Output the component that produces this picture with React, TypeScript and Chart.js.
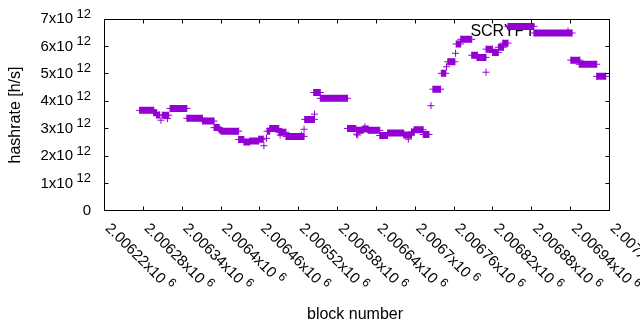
import React, { useEffect, useRef } from 'react';
import { Chart, registerables } from 'chart.js';

Chart.register(...registerables);

// Runs of equal hashrate: first block, last block, value (h/s)
const segStart = [
  2006275, 2006297, 2006301, 2006308, 2006310, 2006318, 2006322, 2006348, 2006372, 2006390,
  2006398, 2006401, 2006428, 2006436, 2006445, 2006459, 2006467, 2006471, 2006472, 2006476,
  2006490, 2006492, 2006501, 2006525, 2006529, 2006530, 2006545, 2006544, 2006554, 2006596,
  2006610, 2006612, 2006610, 2006623, 2006620, 2006628, 2006646, 2006658, 2006690, 2006683,
  2006695, 2006699, 2006713, 2006725, 2006728, 2006741, 2006749, 2006751, 2006763, 2006764,
  2006771, 2006788, 2006796, 2006810, 2006810, 2006820, 2006829, 2006836, 2006844, 2006884,
  2006941, 2006954, 2006981,
];
const segEnd = [
  2006297, 2006301, 2006306, 2006308, 2006320, 2006318, 2006348, 2006372, 2006390, 2006398,
  2006401, 2006428, 2006436, 2006445, 2006459, 2006466, 2006467, 2006471, 2006476, 2006490,
  2006501, 2006492, 2006529, 2006525, 2006529, 2006545, 2006545, 2006554, 2006596, 2006609,
  2006610, 2006612, 2006620, 2006623, 2006628, 2006646, 2006658, 2006683, 2006690, 2006695,
  2006699, 2006713, 2006722, 2006725, 2006740, 2006748, 2006749, 2006762, 2006763, 2006771,
  2006788, 2006797, 2006810, 2006810, 2006820, 2006829, 2006837, 2006844, 2006884, 2006943,
  2006955, 2006981, 2006995,
];
const segValue = [
  3.67e12, 3.58e12, 3.5e12, 3.31e12, 3.49e12, 3.37e12, 3.74e12, 3.38e12, 3.28e12, 3.04e12,
  2.95e12, 2.91e12, 2.61e12, 2.52e12, 2.55e12, 2.62e12, 2.38e12, 2.65e12, 2.91e12, 3.01e12,
  2.87e12, 2.77e12, 2.72e12, 2.77e12, 2.98e12, 3.34e12, 3.53e12, 4.32e12, 4.11e12, 3.01e12,
  2.8e12, 2.77e12, 2.94e12, 3.07e12, 2.99e12, 2.94e12, 2.75e12, 2.84e12, 2.62e12, 2.77e12,
  2.88e12, 2.96e12, 2.79e12, 3.84e12, 4.44e12, 5.02e12, 5.26e12, 5.44e12, 5.75e12, 6.09e12,
  6.26e12, 5.68e12, 5.6e12, 5.06e12, 5.9e12, 5.78e12, 5.97e12, 6.12e12, 6.73e12, 6.49e12,
  5.5e12, 5.35e12, 4.91e12,
];

const xMin = 2006220;
const xMax = 2007000;
const xTickValues = [
  2006220, 2006280, 2006340, 2006400, 2006460, 2006520, 2006580,
  2006640, 2006700, 2006760, 2006820, 2006880, 2006940, 2007000,
];
const xTickMain = [
  '2.00622x10', '2.00628x10', '2.00634x10', '2.0064x10', '2.00646x10', '2.00652x10', '2.00658x10',
  '2.00664x10', '2.0067x10', '2.00676x10', '2.00682x10', '2.00688x10', '2.00694x10', '2.007x10',
];
const xTickSup = '6';
const yTickValues = [0, 1e12, 2e12, 3e12, 4e12, 5e12, 6e12, 7e12];
const yTickMain = ['0', '1x10', '2x10', '3x10', '4x10', '5x10', '6x10', '7x10'];
const yTickSup = ['', '12', '12', '12', '12', '12', '12', '12'];

const seriesLabel = 'SCRYPT';
const xTitle = 'block number';
const yTitle = 'hashrate [h/s]';

const PURPLE = '#9400d3';
const FONT = '"Liberation Sans", Arial, Helvetica, sans-serif';
const MAIN_SIZE = 15;
const SUP_SIZE = 13;
const TITLE_SIZE = 16;

function drawCross(ctx: CanvasRenderingContext2D, x: number, y: number, r: number) {
  ctx.beginPath();
  ctx.moveTo(x - r, y);
  ctx.lineTo(x + r, y);
  ctx.moveTo(x, y - r);
  ctx.lineTo(x, y + r);
  ctx.stroke();
}

const gnuplotLook = {
  id: 'gnuplotLook',
  beforeDatasetsDraw(chart: any) {
    const ctx: CanvasRenderingContext2D = chart.ctx;
    ctx.save();
    ctx.fillStyle = '#000';
    ctx.font = `${TITLE_SIZE}px ${FONT}`;
    ctx.textAlign = 'right';
    ctx.textBaseline = 'middle';
    ctx.fillText(seriesLabel, 535, 31.5);
    ctx.strokeStyle = PURPLE;
    ctx.lineWidth = 1;
    drawCross(ctx, 568, 31, 3.5);
    ctx.restore();
  },
  afterDraw(chart: any) {
    const ctx: CanvasRenderingContext2D = chart.ctx;
    const a = chart.chartArea;
    const xs = chart.scales.x;
    const ys = chart.scales.y;
    const L = Math.round(a.left) + 0.5;
    const R = Math.round(a.right) + 0.5;
    const T = Math.round(a.top) + 0.5;
    const B = Math.round(a.bottom) - 0.5;
    ctx.save();
    ctx.strokeStyle = '#000';
    ctx.lineWidth = 1;
    ctx.strokeRect(L, T, R - L, B - T);
    const tl = 4;
    ctx.beginPath();
    xTickValues.forEach((v) => {
      const px = Math.round(xs.getPixelForValue(v)) + 0.5;
      if (px <= L + 0.1 || px >= R - 0.1) return;
      ctx.moveTo(px, B);
      ctx.lineTo(px, B - tl);
      ctx.moveTo(px, T);
      ctx.lineTo(px, T + tl);
    });
    yTickValues.forEach((v) => {
      const py = Math.floor(ys.getPixelForValue(v)) + 0.5;
      if (py <= T + 0.1 || py >= B - 0.1) return;
      ctx.moveTo(L, py);
      ctx.lineTo(L + tl, py);
      ctx.moveTo(R, py);
      ctx.lineTo(R - tl, py);
    });
    ctx.stroke();

    ctx.fillStyle = '#000';
    ctx.textBaseline = 'middle';
    // y tick labels
    yTickValues.forEach((v, i) => {
      const py = ys.getPixelForValue(v);
      ctx.font = `${MAIN_SIZE}px ${FONT}`;
      const mw = ctx.measureText(yTickMain[i]).width;
      ctx.font = `${SUP_SIZE}px ${FONT}`;
      const sw = yTickSup[i] ? ctx.measureText(yTickSup[i]).width : 0;
      const gap = yTickSup[i] ? 3.5 : 0;
      const x0 = 91 - (mw + gap + sw);
      ctx.textAlign = 'left';
      ctx.font = `${MAIN_SIZE}px ${FONT}`;
      ctx.fillText(yTickMain[i], x0, py);
      if (yTickSup[i]) {
        ctx.font = `${SUP_SIZE}px ${FONT}`;
        ctx.fillText(yTickSup[i], x0 + mw + gap, py - 5);
      }
    });
    // x tick labels rotated clockwise 45 degrees
    xTickValues.forEach((v, i) => {
      const px = xs.getPixelForValue(v);
      ctx.save();
      ctx.translate(px + 3.5, 226);
      ctx.rotate(Math.PI / 4);
      ctx.textAlign = 'left';
      ctx.font = `${MAIN_SIZE}px ${FONT}`;
      const mw = ctx.measureText(xTickMain[i]).width;
      ctx.fillText(xTickMain[i], 0, 0);
      ctx.font = `${SUP_SIZE - 1}px ${FONT}`;
      ctx.fillText(xTickSup, mw + 4, -5);
      ctx.restore();
    });
    // axis titles
    ctx.font = `${TITLE_SIZE}px ${FONT}`;
    ctx.textAlign = 'center';
    ctx.fillText(xTitle, 355, 315);
    ctx.save();
    ctx.translate(16, (T + B) / 2);
    ctx.rotate(-Math.PI / 2);
    ctx.fillText(yTitle, 0, 0);
    ctx.restore();
    ctx.restore();
  },
};

export default function App() {
  const canvasRef = useRef<HTMLCanvasElement | null>(null);

  useEffect(() => {
    const canvas = canvasRef.current;
    if (!canvas) return;
    const points: { x: number; y: number | null }[] = [];
    segStart.forEach((s, i) => {
      points.push({ x: s, y: segValue[i] });
      if (segEnd[i] !== s) points.push({ x: segEnd[i], y: segValue[i] });
      points.push({ x: segEnd[i], y: null });
    });
    const chart = new Chart(canvas, {
      type: 'line',
      data: {
        datasets: [
          {
            label: seriesLabel,
            data: points as any,
            borderColor: PURPLE,
            backgroundColor: PURPLE,
            borderWidth: 7,
            borderCapStyle: 'butt',
            spanGaps: false,
            tension: 0,
            pointStyle: 'cross',
            pointRadius: 3.5,
            pointBorderWidth: 1,
            pointBorderColor: PURPLE,
            pointBackgroundColor: PURPLE,
            fill: false,
          },
        ],
      },
      options: {
        responsive: false,
        devicePixelRatio: 1,
        animation: false,
        events: [],
        layout: { padding: { left: 104, right: 31, top: 19, bottom: 119 } },
        plugins: { legend: { display: false }, tooltip: { enabled: false } },
        scales: {
          x: { type: 'linear', display: false, min: xMin, max: xMax },
          y: { type: 'linear', display: false, min: 0, max: 7e12 },
        },
      },
      plugins: [gnuplotLook],
    });
    return () => chart.destroy();
  }, []);

  return (
    <div style={{ position: 'fixed', left: 0, top: 0, width: 640, height: 330, background: '#fff' }}>
      <canvas ref={canvasRef} width={640} height={330} style={{ display: 'block', width: 640, height: 330 }} />
    </div>
  );
}
